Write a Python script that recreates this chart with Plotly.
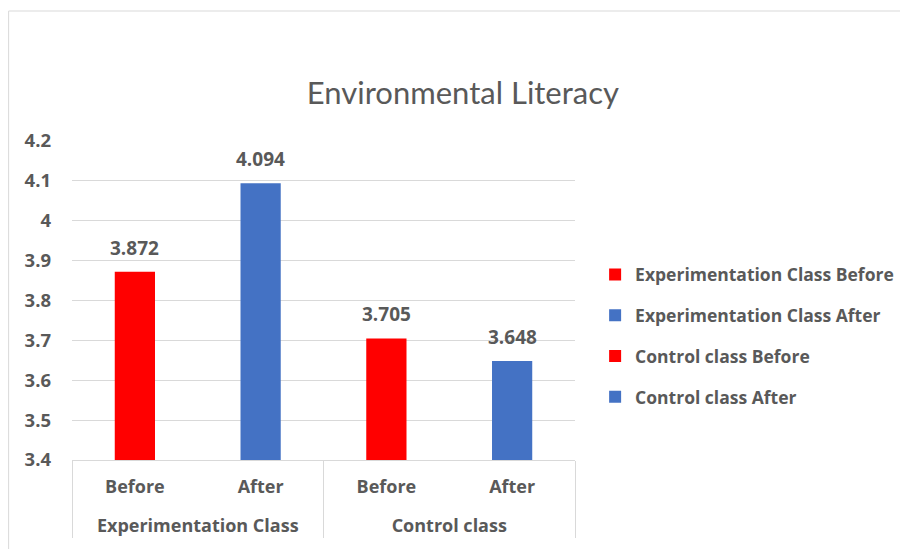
import plotly.graph_objects as go

groups = ["Experimentation Class", "Experimentation Class", "Control class", "Control class"]
phases = ["Before", "After", "Before", "After"]
names = ["Experimentation Class Before", "Experimentation Class After",
         "Control class Before", "Control class After"]
values = [3.872, 4.094, 3.705, 3.648]
labels = ["3.872", "4.094", "3.705", "3.648"]
colors = ["#FF0000", "#4472C4", "#FF0000", "#4472C4"]
ytick_vals = [3.4, 3.5, 3.6, 3.7, 3.8, 3.9, 4.0, 4.1, 4.2]
ytick_text = ["3.4", "3.5", "3.6", "3.7", "3.8", "3.9", "4", "4.1", "4.2"]

FONT = "Open Sans"
GRAY = "#595959"

fig = go.Figure()
for i in range(4):
    fig.add_trace(go.Bar(
        x=[["<br>" + groups[i]], [phases[i]]],
        y=[values[i]],
        name=names[i],
        legendgroup=names[i],
        marker=dict(color=colors[i], line=dict(width=0)),
        width=0.32,
    ))
    # data label above each bar
    fig.add_annotation(x=i, y=values[i], text=labels[i], showarrow=False,
                       xanchor="center", yanchor="bottom", yshift=9,
                       font=dict(family=FONT, size=19, color=GRAY, weight="bold"))

fig.update_layout(
    width=908, height=549,
    paper_bgcolor="white", plot_bgcolor="white",
    barmode="overlay",
    margin=dict(l=64, r=341, t=133, b=97),
    title=dict(text="Environmental Literacy", x=0.501, xanchor="center",
               y=0.845, yanchor="middle",
               font=dict(family="Lato", size=31, color=GRAY)),
    font=dict(family=FONT, color=GRAY),
    legend=dict(x=1.04, y=0.39, xanchor="left", yanchor="middle",
                font=dict(family=FONT, size=17.5, color=GRAY, weight="bold"),
                tracegroupgap=15, itemwidth=30, bgcolor="rgba(0,0,0,0)"),
    showlegend=True,
)
fig.update_yaxes(range=[3.4, 4.2], tickvals=ytick_vals, ticktext=ytick_text,
                 showgrid=True, gridcolor="#D9D9D9", gridwidth=1,
                 zeroline=False, showline=False, ticks="", ticklabelstandoff=20,
                 tickfont=dict(family=FONT, size=18.5, color=GRAY, weight="bold"))
fig.update_xaxes(type="multicategory", showline=True, linecolor="#D9D9D9",
                 showdividers=True, dividercolor="#D9D9D9", dividerwidth=1,
                 tickfont=dict(family=FONT, size=18, color=GRAY, weight="bold"),
                 ticks="", ticklabelstandoff=10)

# chart frame
fig.add_shape(type="rect", xref="paper", yref="paper",
              x0=-0.126, x1=2.0, y0=-0.6, y1=1.4075,
              line=dict(color="#D9D9D9", width=1), layer="below")

fig.write_html("out.html")
